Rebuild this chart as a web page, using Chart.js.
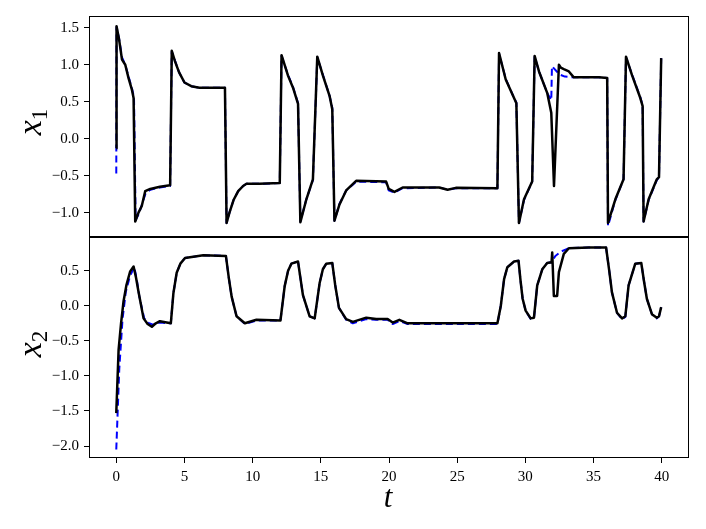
<!DOCTYPE html>
<html>
<head>
<meta charset="utf-8">
<script src="https://cdn.jsdelivr.net/npm/chart.js@4.4.1/dist/chart.umd.min.js"></script>
<style>
  body { margin: 0; background: #fff; }
  #wrap { position: relative; width: 706px; height: 529px; }
  canvas { position: absolute; left: 0; }
  .lab { position: absolute; font-family: 'Liberation Serif', serif; font-size: 34px; color: #000; white-space: nowrap; line-height: 1; }
  .lab sub { font-size: 23px; font-style: normal; vertical-align: -6px; }
  .rot { transform: translate(-50%, -50%) rotate(-90deg); }
</style>
</head>
<body>
<div id="wrap">
  <canvas id="top" width="706" height="237" style="top:0"></canvas>
  <canvas id="bottom" width="706" height="292" style="top:237px"></canvas>
  <div class="lab rot" style="left:32px; top:122px"><i>x</i><sub>1</sub></div>
  <div class="lab rot" style="left:32px; top:344px"><i>x</i><sub>2</sub></div>
  <div class="lab" style="left:388px; top:496px; font-size:31px; transform: translate(-50%, -50%)"><i>t</i></div>
</div>
<script>
// tick values
const xTicks = [0, 5, 10, 15, 20, 25, 30, 35, 40];
const x1Ticks = [-1.0, -0.5, 0.0, 0.5, 1.0, 1.5];
const x2Ticks = [-2.0, -1.5, -1.0, -0.5, 0.0, 0.5];

// x1, simulated (black)
const t1 = [0, 0.02, 0.2, 0.42, 0.66, 0.9, 1.15, 1.27, 1.39, 1.63, 1.87, 2.12, 2.49, 3.2, 3.95,
  4.07, 4.3, 4.6, 5.0, 5.5, 6.1, 7.97, 8.09, 8.3, 8.6, 8.94, 9.3, 9.55, 10.5, 11.99,
  12.12, 12.6, 12.96, 13.33, 13.5, 13.94, 14.42, 14.74, 15.16, 15.64, 15.84, 16.0, 16.37, 16.86, 17.59,
  19.79, 19.98, 20.4, 21.0, 23.68, 24.3, 24.9, 27.95, 28.07, 28.56, 29.17, 29.34, 29.53, 29.9, 30.5,
  30.68, 31.0, 31.6, 31.9, 32.1, 32.46, 32.6, 32.82, 33.19, 33.55, 35.4, 36.0, 36.06, 36.6, 37.2,
  37.38, 37.82, 38.43, 38.6, 38.67, 39.04, 39.64, 39.8, 39.96];
const x1 = [-0.13, 1.52, 1.35, 1.07, 1.0, 0.82, 0.66, 0.55, -1.12, -1.0, -0.91, -0.71, -0.68, -0.65, -0.63,
  1.19, 1.05, 0.9, 0.76, 0.71, 0.69, 0.69, -1.14, -1.0, -0.83, -0.71, -0.64, -0.61, -0.61, -0.60,
  1.13, 0.85, 0.69, 0.47, -1.13, -0.82, -0.55, 1.11, 0.85, 0.58, 0.40, -1.11, -0.89, -0.70, -0.57,
  -0.58, -0.68, -0.72, -0.66, -0.66, -0.69, -0.665, -0.67, 1.16, 0.80, 0.55, 0.48, -1.14, -0.82, -0.58,
  1.12, 0.91, 0.62, 0.35, -0.64, 1.0, 0.96, 0.94, 0.91, 0.83, 0.83, 0.82, -1.14, -0.82, -0.55,
  1.11, 0.86, 0.55, 0.44, -1.12, -0.82, -0.55, -0.52, 1.09];

// x1, reference (blue dashed)
const t1Ref = [0, 0.02, 0.2, 0.42, 0.66, 0.9, 1.15, 1.3, 1.42, 1.65, 1.9, 2.15, 2.5, 3.2, 3.95,
  4.07, 4.3, 4.6, 5.0, 5.5, 6.1, 7.97, 8.09, 8.3, 8.6, 8.94, 9.3, 9.55, 10.5, 11.99,
  12.12, 12.6, 12.96, 13.33, 13.5, 13.94, 14.42, 14.74, 15.16, 15.64, 15.84, 16.0, 16.37, 16.86, 17.3, 17.59,
  19.79, 19.98, 20.4, 21.0, 23.68, 24.3, 24.9, 27.95, 28.07, 28.56, 29.17, 29.34, 29.53, 29.9, 30.5,
  30.68, 31.0, 31.6, 31.9, 31.95, 32.5, 32.9, 33.55, 35.4, 36.0, 36.06, 36.6, 37.2,
  37.38, 37.82, 38.43, 38.6, 38.67, 39.04, 39.64, 39.8, 39.96];
const x1Ref = [-0.47, 1.51, 1.36, 1.1, 1.0, 0.84, 0.68, 0.56, -1.1, -1.02, -0.88, -0.74, -0.69, -0.66, -0.64,
  1.18, 1.06, 0.9, 0.76, 0.71, 0.69, 0.69, -1.14, -1.0, -0.83, -0.71, -0.64, -0.61, -0.61, -0.60,
  1.12, 0.86, 0.70, 0.48, -1.12, -0.82, -0.56, 1.10, 0.86, 0.58, 0.42, -1.11, -0.88, -0.70, -0.63, -0.58,
  -0.59, -0.70, -0.73, -0.67, -0.66, -0.69, -0.67, -0.67, 1.15, 0.81, 0.55, 0.49, -1.14, -0.83, -0.58,
  1.11, 0.91, 0.62, 0.52, 0.98, 0.87, 0.84, 0.83, 0.83, 0.82, -1.18, -0.83, -0.55,
  1.10, 0.87, 0.56, 0.45, -1.12, -0.83, -0.56, -0.52, 1.09];

// x2, simulated (black)
const t2 = [0, 0.17, 0.35, 0.53, 0.75, 1.02, 1.27, 1.45, 1.63, 2.0, 2.3, 2.61, 2.9, 3.2, 4.0,
  4.19, 4.43, 4.7, 5.04, 6.38, 8.04, 8.25, 8.46, 8.82, 9.43, 10.28, 12.04,
  12.35, 12.6, 12.84, 13.33, 13.5, 13.69, 14.18, 14.55, 14.91, 15.15, 15.4, 15.84, 16.05, 16.33, 16.86, 17.35,
  18.33, 19.06, 19.9, 20.27, 20.76, 21.37, 24.17, 27.95, 28.2, 28.44, 28.68, 29.17, 29.5, 29.65, 29.8,
  30.02, 30.39, 30.63, 30.87, 31.24, 31.6, 31.92, 31.97, 32.09, 32.33, 32.46, 32.82, 33.19, 34.65, 35.92,
  36.15, 36.35, 36.72, 37.09, 37.33, 37.57, 38.06, 38.5, 38.7, 38.91, 39.28, 39.64, 39.8, 39.96];
const x2 = [-1.53, -0.63, -0.25, 0.06, 0.30, 0.49, 0.56, 0.40, 0.20, -0.18, -0.26, -0.30, -0.25, -0.22, -0.25,
  0.18, 0.47, 0.60, 0.68, 0.72, 0.71, 0.40, 0.13, -0.15, -0.25, -0.20, -0.21,
  0.28, 0.50, 0.60, 0.63, 0.40, 0.15, -0.15, -0.18, 0.32, 0.52, 0.60, 0.61, 0.30, -0.03, -0.19, -0.23,
  -0.17, -0.19, -0.19, -0.24, -0.20, -0.25, -0.25, -0.25, 0.0, 0.38, 0.55, 0.63, 0.64, 0.35, 0.10,
  -0.07, -0.18, -0.17, 0.29, 0.52, 0.61, 0.62, 0.76, 0.14, 0.14, 0.48, 0.74, 0.82, 0.83, 0.83,
  0.50, 0.19, -0.10, -0.18, -0.15, 0.29, 0.60, 0.61, 0.35, 0.10, -0.12, -0.17, -0.15, -0.02];

// x2, reference (blue dashed)
const t2Ref = [0, 0.22, 0.46, 0.7, 1.0, 1.32, 1.5, 1.7, 2.05, 2.4, 2.7, 3.2, 4.0,
  4.19, 4.43, 4.7, 5.04, 6.38, 8.04, 8.25, 8.46, 8.82, 9.43, 10.28, 12.04,
  12.35, 12.6, 12.84, 13.33, 13.5, 13.69, 14.18, 14.55, 14.91, 15.15, 15.4, 15.84, 16.05, 16.33, 16.86, 17.35,
  18.33, 19.06, 19.9, 20.27, 20.76, 21.37, 24.17, 27.95, 28.2, 28.44, 28.68, 29.17, 29.5, 29.65, 29.8,
  30.02, 30.39, 30.63, 30.87, 31.24, 31.6, 31.92, 32.2, 32.6, 32.94, 33.19, 34.65, 35.92,
  36.15, 36.35, 36.72, 37.09, 37.33, 37.57, 38.06, 38.5, 38.7, 38.91, 39.28, 39.64, 39.8, 39.96];
const x2Ref = [-2.05, -0.9, -0.19, 0.2, 0.42, 0.55, 0.38, 0.12, -0.18, -0.25, -0.27, -0.24, -0.25,
  0.18, 0.47, 0.60, 0.68, 0.72, 0.71, 0.40, 0.13, -0.15, -0.26, -0.21, -0.21,
  0.28, 0.50, 0.60, 0.63, 0.40, 0.15, -0.15, -0.18, 0.32, 0.52, 0.60, 0.61, 0.30, -0.03, -0.20, -0.25,
  -0.19, -0.20, -0.20, -0.26, -0.22, -0.26, -0.26, -0.26, 0.0, 0.38, 0.55, 0.63, 0.64, 0.35, 0.10,
  -0.07, -0.19, -0.18, 0.29, 0.52, 0.61, 0.62, 0.71, 0.77, 0.80, 0.82, 0.83, 0.83,
  0.50, 0.19, -0.10, -0.19, -0.16, 0.29, 0.60, 0.61, 0.35, 0.10, -0.12, -0.18, -0.15, -0.02];

Chart.defaults.font.family = "'Liberation Serif', 'DejaVu Serif', serif";
Chart.defaults.font.size = 15;
Chart.defaults.color = '#000';

const pts = (ts, vs) => ts.map((t, i) => ({ x: t, y: vs[i] }));
const fmt = v => v.toFixed(1).replace('-', '\u2212');

// frame around the plot area (matplotlib spines)
const frame = {
  id: 'frame',
  afterDraw(chart) {
    const a = chart.chartArea, ctx = chart.ctx;
    ctx.save();
    ctx.strokeStyle = '#000';
    ctx.lineWidth = 1;
    ctx.strokeRect(Math.round(a.left) + 0.5, Math.round(a.top) + 0.5,
      Math.round(a.right - a.left) - 1, Math.round(a.bottom - a.top) - 1);
    ctx.restore();
  }
};

function makeChart(id, black, blue, yMin, yMax, yTicks, showX) {
  return new Chart(document.getElementById(id), {
    type: 'line',
    data: {
      datasets: [
        { data: black, borderColor: '#000', borderWidth: 2.5, pointRadius: 0, tension: 0, order: 0, borderJoinStyle: 'round' },
        { data: blue, borderColor: '#0000ff', borderWidth: 2, borderDash: [7, 4], pointRadius: 0, tension: 0, order: 1, borderJoinStyle: 'round' }
      ]
    },
    options: {
      responsive: false,
      animation: false,
      events: [],
      layout: { padding: { top: showX ? 0 : 16, right: 17, left: 0, bottom: 0 } },
      plugins: { legend: { display: false }, tooltip: { enabled: false } },
      scales: {
        x: {
          type: 'linear', min: -2, max: 42, display: showX,
          afterFit: s => { s.height = showX ? 71 : 0; s.paddingLeft = 0; s.paddingRight = 0; },
          afterBuildTicks: s => { s.ticks = xTicks.map(v => ({ value: v })); },
          ticks: { padding: 5, maxRotation: 0, callback: v => String(v) },
          grid: { drawOnChartArea: false, drawTicks: true, tickLength: 5, color: '#000', lineWidth: 1 },
          border: { display: false }
        },
        y: {
          type: 'linear', min: yMin, max: yMax,
          afterFit: s => { s.width = 89; s.paddingTop = 0; s.paddingBottom = 0; },
          afterBuildTicks: s => { s.ticks = yTicks.map(v => ({ value: v })); },
          ticks: { padding: 5, callback: v => fmt(v) },
          grid: { drawOnChartArea: false, drawTicks: true, tickLength: 5, color: '#000', lineWidth: 1 },
          border: { display: false }
        }
      }
    },
    plugins: [frame]
  });
}

makeChart('top', pts(t1, x1), pts(t1Ref, x1Ref), -1.33, 1.66, x1Ticks, false);
makeChart('bottom', pts(t2, x2), pts(t2Ref, x2Ref), -2.17, 0.98, x2Ticks, true);
</script>
</body>
</html>
